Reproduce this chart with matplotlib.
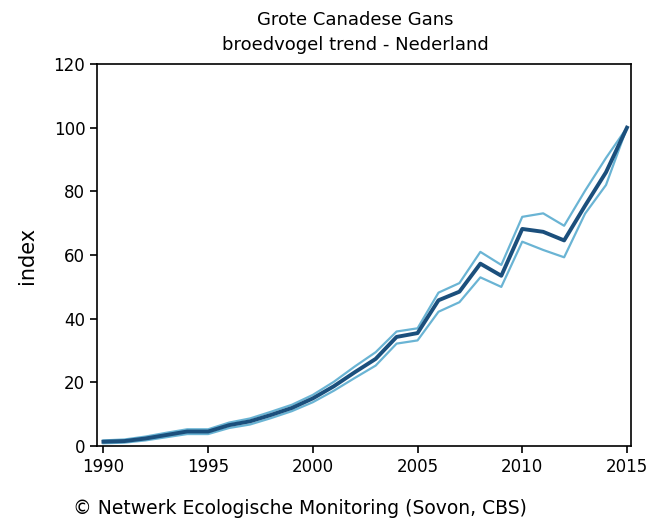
import numpy as np
import matplotlib.pyplot as plt

plt.rcParams['font.family'] = ['DejaVu Sans']

years = list(range(1990, 2016))
index = [1.4, 1.6, 2.4, 3.5, 4.6, 4.6, 6.6, 7.8, 9.8, 12.0, 15.0, 18.8, 23.2, 27.4,
         34.3, 35.5, 45.8, 48.5, 57.3, 53.5, 68.2, 67.3, 64.6, 75.5, 86.0, 100.0]
upper = [1.8, 2.1, 3.0, 4.2, 5.3, 5.3, 7.4, 8.7, 10.8, 13.0, 16.1, 20.2, 25.0, 29.5,
         36.0, 37.0, 48.2, 51.2, 61.0, 56.9, 72.0, 73.1, 69.2, 80.2, 90.5, 100.0]
lower = [0.9, 1.1, 1.8, 2.8, 3.8, 3.8, 5.7, 6.8, 8.8, 11.0, 13.8, 17.4, 21.4, 25.3,
         32.2, 33.2, 42.2, 45.2, 53.0, 50.0, 64.2, 61.6, 59.3, 73.0, 82.0, 100.0]

fig = plt.figure(figsize=(6.52, 5.2), dpi=100)
ax = fig.add_axes([0.149, 0.142, 0.819, 0.735])

ax.plot(years, upper, color='#6ab4d4', lw=1.6)
ax.plot(years, lower, color='#6ab4d4', lw=1.6)
ax.plot(years, index, color='#1b4f7c', lw=2.8)

ax.set_xlim(1989.7, 2015.2)
ax.set_ylim(0, 120)
ax.set_xticks(range(1990, 2016, 5))
ax.set_yticks(range(0, 121, 20))
ax.tick_params(direction='out', length=5, width=1.2, labelsize=12, colors='black')
for s in ax.spines.values():
    s.set_linewidth(1.2)
ax.set_ylabel('index', fontsize=15, labelpad=12)

fig.text(0.545, 0.962, 'Grote Canadese Gans', ha='center', va='center', fontsize=13)
fig.text(0.545, 0.913, 'broedvogel trend - Nederland', ha='center', va='center', fontsize=13)
fig.text(0.112, 0.022, '© Netwerk Ecologische Monitoring (Sovon, CBS)', ha='left', va='center', fontsize=13.5)

fig.savefig('out.png', dpi=100)
